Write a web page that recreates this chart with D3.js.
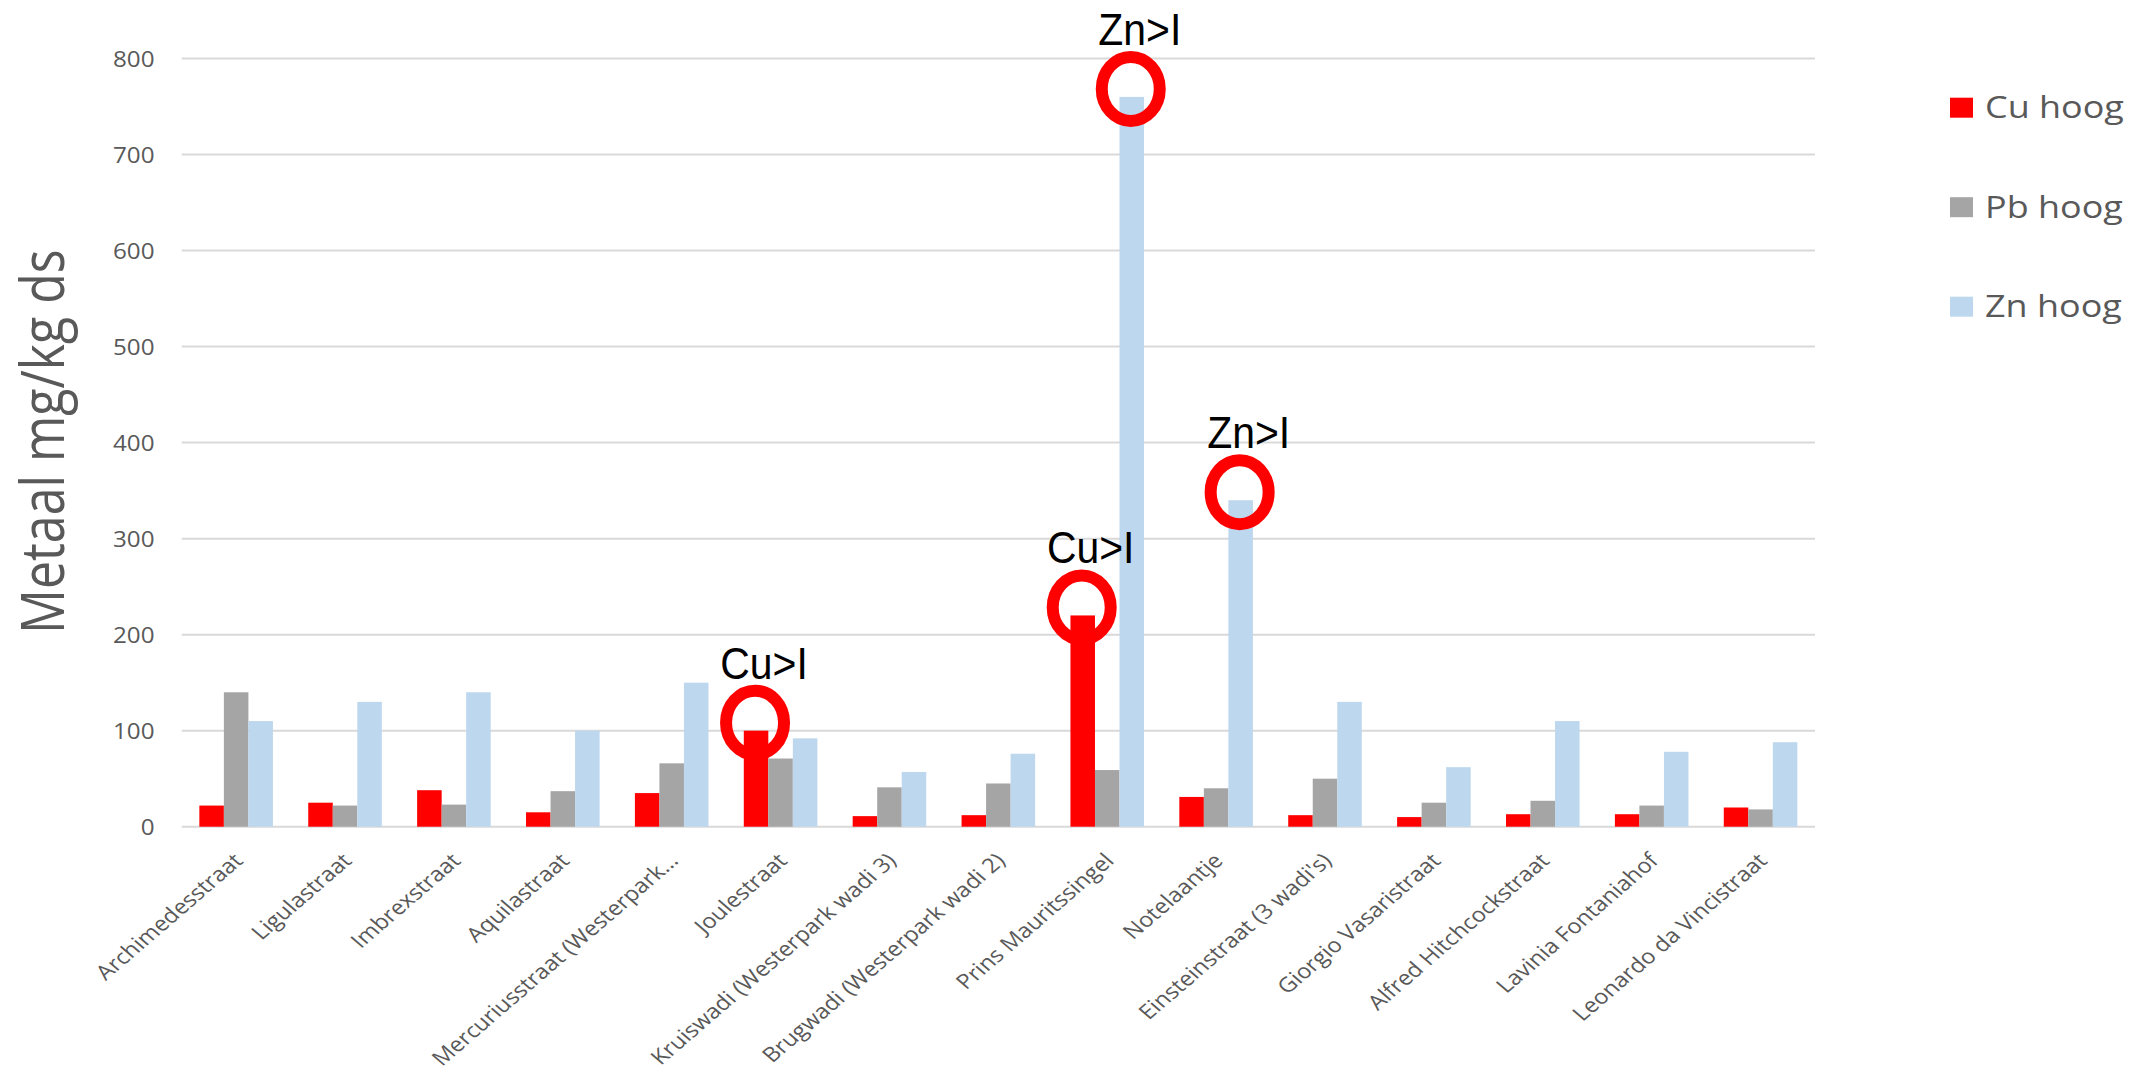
<!DOCTYPE html>
<html>
<head>
<meta charset="utf-8">
<script src="https://cdn.jsdelivr.net/npm/d3@7"></script>
<style>
  html, body { margin: 0; padding: 0; background: #fff; }
  svg { display: block; font-family: "Open Sans", "Noto Sans", sans-serif; }
</style>
</head>
<body>
<svg id="chart" width="2143" height="1073"></svg>
<script>
// Locations sampled
const categories = [
  "Archimedesstraat", "Ligulastraat", "Imbrexstraat", "Aquilastraat",
  "Mercuriusstraat (Westerpark…", "Joulestraat", "Kruiswadi (Westerpark wadi 3)",
  "Brugwadi (Westerpark wadi 2)", "Prins Mauritssingel", "Notelaantje",
  "Einsteinstraat (3 wadi's)", "Giorgio Vasaristraat", "Alfred Hitchcockstraat",
  "Lavinia Fontaniahof", "Leonardo da Vincistraat"
];

// Series names (legend order)
const seriesNames = ["Cu hoog", "Pb hoog", "Zn hoog"];

// Metal content, mg/kg ds
const cuValues = [22, 25, 38, 15, 35, 100, 11, 12, 220, 31, 12, 10, 13, 13, 20];
const pbValues = [140, 22, 23, 37, 66, 71, 41, 45, 59, 40, 50, 25, 27, 22, 18];
const znValues = [110, 130, 140, 100, 150, 92, 57, 76, 760, 340, 130, 62, 110, 78, 88];

// Y axis ticks
const yTicks = [0, 100, 200, 300, 400, 500, 600, 700, 800];

// Exceedances of the intervention value that are circled
const annotations = [
  { category: "Joulestraat", series: "Cu hoog", label: "Cu>I" },
  { category: "Prins Mauritssingel", series: "Cu hoog", label: "Cu>I" },
  { category: "Prins Mauritssingel", series: "Zn hoog", label: "Zn>I" },
  { category: "Notelaantje", series: "Zn hoog", label: "Zn>I" }
];

const yTitle = "Metaal mg/kg ds";

const seriesValues = { "Cu hoog": cuValues, "Pb hoog": pbValues, "Zn hoog": znValues };
const colors = { "Cu hoog": "#FF0000", "Pb hoog": "#A5A5A5", "Zn hoog": "#BDD7EE" };
const textColor = "#595959";
const stretch = 1.16; // horizontal widening applied to the chart text

const svg = d3.select("#chart");

const plot = { left: 181.7, right: 1815, top: 58.5, bottom: 826.7 };

const x = d3.scaleBand().domain(categories).range([plot.left, plot.right]).padding(0);
const xInner = d3.scaleBand().domain(seriesNames).range([0, x.bandwidth()])
  .paddingInner(0).paddingOuter(0.72);
const y = d3.scaleLinear().domain([0, 800]).range([plot.bottom, plot.top]);

// Gridlines
svg.append("g")
  .selectAll("line")
  .data(yTicks)
  .join("line")
  .attr("x1", plot.left).attr("x2", plot.right)
  .attr("y1", d => y(d)).attr("y2", d => y(d))
  .attr("stroke", "#D9D9D9").attr("stroke-width", 2);

// Y tick labels
svg.append("g")
  .selectAll("text")
  .data(yTicks)
  .join("text")
  .attr("transform", d => `translate(154.5,${y(d)}) scale(${stretch - 0.06},1)`)
  .attr("text-anchor", "end")
  .attr("dominant-baseline", "central")
  .attr("font-size", 22)
  .attr("fill", textColor)
  .text(d => d);

// Y axis title
svg.append("text")
  .attr("transform", `translate(64,${(251.7 + 631.7) / 2}) scale(${stretch + 0.04},1) rotate(-90)`)
  .attr("text-anchor", "middle")
  .attr("font-size", 50)
  .attr("fill", textColor)
  .text(yTitle);

// Bars
const rows = categories.map((c, i) => ({ category: c, i }));
const groups = svg.append("g")
  .selectAll("g")
  .data(rows)
  .join("g")
  .attr("transform", d => `translate(${x(d.category)},0)`);

groups.selectAll("rect")
  .data(d => seriesNames.map(s => ({ series: s, value: seriesValues[s][d.i] })))
  .join("rect")
  .attr("x", d => xInner(d.series))
  .attr("width", xInner.bandwidth())
  .attr("y", d => y(d.value))
  .attr("height", d => y(0) - y(d.value))
  .attr("fill", d => colors[d.series]);

// Category labels
svg.append("g")
  .selectAll("text")
  .data(categories)
  .join("text")
  .attr("transform", d => `translate(${x(d) + x.bandwidth() / 2 + 8},862) scale(${stretch},1) rotate(-45)`)
  .attr("text-anchor", "end")
  .attr("font-size", 20.5)
  .attr("fill", textColor)
  .text(d => d);

// Legend
const legend = svg.append("g")
  .selectAll("g")
  .data(seriesNames)
  .join("g")
  .attr("transform", (d, i) => `translate(1950,${97.7 + i * 99.5})`);
legend.append("rect")
  .attr("width", 23).attr("height", 20)
  .attr("fill", d => colors[d]);
legend.append("text")
  .attr("transform", `translate(35,20.6) scale(${stretch},1)`)
  .attr("font-size", 31)
  .attr("fill", textColor)
  .text(d => d);

// Circled exceedances
const ann = svg.append("g")
  .selectAll("g")
  .data(annotations)
  .join("g")
  .attr("transform", d => {
    const i = categories.indexOf(d.category);
    const cx = x(d.category) + xInner(d.series) + xInner.bandwidth() / 2 - 1;
    const cy = y(seriesValues[d.series][i]) - 8;
    return `translate(${cx},${cy})`;
  });
ann.append("ellipse")
  .attr("rx", 29).attr("ry", 32)
  .attr("fill", "none")
  .attr("stroke", "#FF0000")
  .attr("stroke-width", 12);
ann.append("text")
  .attr("transform", "translate(9,-44) scale(0.93,1)")
  .attr("text-anchor", "middle")
  .attr("font-family", "'Liberation Sans', Arial, sans-serif")
  .attr("font-size", 44)
  .attr("fill", "#000")
  .text(d => d.label);
</script>
</body>
</html>
